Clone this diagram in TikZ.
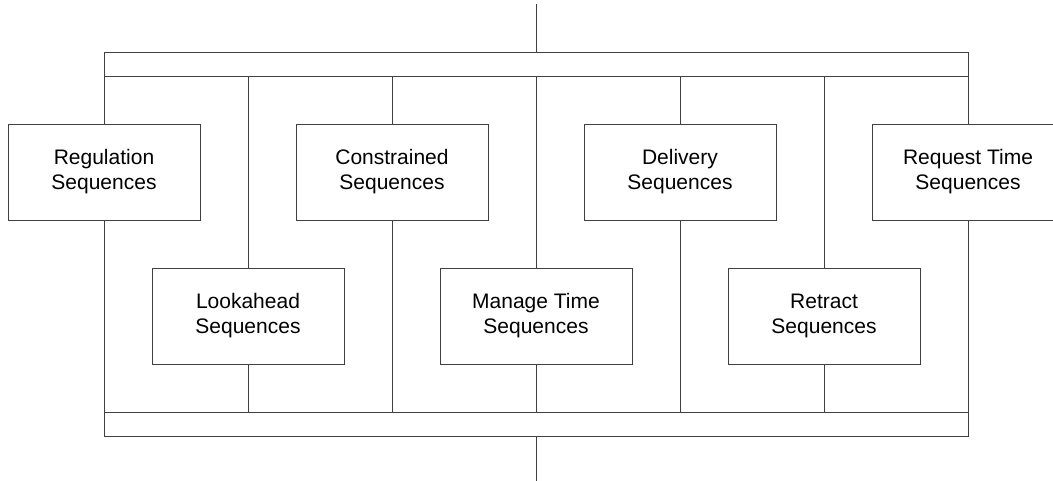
\documentclass[tikz,border=0pt]{standalone}
\usepackage{fontspec}
\setmainfont{Liberation Sans}
\begin{document}
\begin{tikzpicture}[x=1pt,y=-1pt,
  line width=0.9pt,
  ln/.style={draw=black!75},
  seqbox/.style={ln, fill=white, rectangle, minimum width=192pt, minimum height=96pt,
    inner sep=0pt, align=center, font=\fontsize{21}{25}\selectfont},
  bar/.style={ln, rectangle, minimum width=864pt, minimum height=24pt, inner sep=0pt}]
\clip (0,0) rectangle (1053,481);
\path[use as bounding box] (0,0) rectangle (1053,481);
\coordinate (topin) at (536,4);
\coordinate (botout) at (536,481);
\node[bar] (topbar) at (536,64) {};
\node[bar] (botbar) at (536,424) {};
\node[seqbox] (reg) at (104,172) {Regulation\\Sequences};
\node[seqbox] (look) at (248,316) {Lookahead\\Sequences};
\node[seqbox] (cons) at (392,172) {Constrained\\Sequences};
\node[seqbox] (man) at (536,316) {Manage Time\\Sequences};
\node[seqbox] (del) at (680,172) {Delivery\\Sequences};
\node[seqbox] (ret) at (824,316) {Retract\\Sequences};
\node[seqbox] (req) at (968,172) {Request Time\\Sequences};
\draw[ln] (topin) -- (topbar.north);
\draw[ln] (botbar.south) -- (botout);
\foreach \n in {reg,look,cons,man,del,ret,req}{
  \draw[ln] (topbar.south -| \n.north) -- (\n.north);
  \draw[ln] (\n.south) -- (botbar.north -| \n.south);
}
\end{tikzpicture}
\end{document}
